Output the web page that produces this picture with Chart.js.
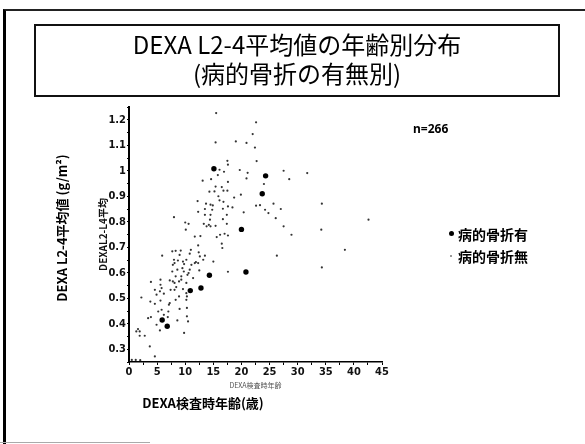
<!DOCTYPE html>
<html lang="ja">
<head>
  <meta charset="UTF-8">
  <title>DEXA L2-4平均値の年齢別分布</title>
  <script src="https://cdn.jsdelivr.net/npm/chart.js"></script>
  <style>
    body {
      margin: 0;
      background: #fff;
      font-family: 'Noto Sans CJK JP', 'Noto Sans', sans-serif;
      color: #000;
    }

    #page {
      position: relative;
      width: 585px;
      height: 444px;
      overflow: hidden;
    }

    canvas {
      position: absolute;
      left: 0;
      top: 0;
    }

    .frame {
      position: absolute;
      left: 3px;
      top: 9px;
      width: 600px;
      height: 460px;
      border-top: 2px solid #222;
      border-left: 3px solid #000;
    }

    .bottom-line {
      position: absolute;
      left: 0;
      top: 442px;
      width: 150px;
      height: 1px;
      background: #aaa;
    }

    .title-box {
      position: absolute;
      left: 34px;
      top: 24px;
      width: 526px;
      height: 73px;
      box-sizing: border-box;
      border: 2px solid #111;
      padding-top: 3px;
      text-align: center;
      font-size: 24px;
      line-height: 29px;
    }

    .note {
      position: absolute;
      left: 413px;
      top: 121px;
      font-family: 'Noto Sans', sans-serif;
      font-size: 12px;
      font-weight: bold;
      line-height: 16px;
    }

    .legend-row {
      position: absolute;
      left: 458px;
      font-size: 14px;
      font-weight: bold;
      line-height: 18px;
    }

    .dot {
      position: absolute;
      border-radius: 50%;
    }

    .ylabel {
      position: absolute;
      left: -48px;
      top: 219px;
      width: 220px;
      height: 18px;
      line-height: 18px;
      text-align: center;
      font-size: 13px;
      font-weight: bold;
      transform: rotate(-90deg);
    }

    .xlabel {
      position: absolute;
      left: 103px;
      top: 394px;
      width: 200px;
      line-height: 18px;
      text-align: center;
      font-size: 13px;
      font-weight: bold;
    }
  </style>
</head>

<body>
  <div id="page">
    <canvas id="chart" width="585" height="444"></canvas>
    <div class="frame"></div>
    <div class="bottom-line"></div>
    <div class="title-box">DEXA L2-4平均値の年齢別分布<br>(病的骨折の有無別)</div>
    <div class="note">n=266</div>
    <div class="dot" style="left:449px; top:231px; width:5px; height:5px; background:#000;"></div>
    <div class="legend-row" style="top:225px;">病的骨折有</div>
    <div class="dot" style="left:450px; top:255px; width:2px; height:2px; background:#777;"></div>
    <div class="legend-row" style="top:247px;">病的骨折無</div>
    <div class="ylabel">DEXA L2-4平均値 (g/m²)</div>
    <div class="xlabel">DEXA検査時年齢(歳)</div>
  </div>

  <script>
    // 病的骨折有 (年齢, L2-4平均値)
    const fxAge = [5.9, 6.8, 10.9, 12.8, 14.3, 20.8, 20.0, 15.1, 24.3, 23.7];
    const fxBmd = [0.415, 0.39, 0.53, 0.54, 0.59, 0.603, 0.77, 1.008, 0.98, 0.91];

    // 病的骨折無 (年齢, L2-4平均値)
    const nfAge = [
      15.5, 15.4, 19.0, 20.9, 22.0, 22.6, 22.4, 22.7, 17.5, 17.6,
      19.7, 21.1, 20.9, 16.1, 16.9, 15.8, 17.6, 14.6, 13.1, 27.5,
      28.5, 24.0, 15.4, 16.5, 16.8, 14.3, 15.2, 17.5, 15.9, 18.7,
      19.9, 12.2, 13.7, 14.9, 16.1, 16.8, 18.4, 22.6, 23.3, 24.2,
      25.7, 27.0, 24.8, 26.1, 27.5, 20.4, 8.0, 12.3, 13.5, 14.8,
      16.7, 17.6, 10.0, 10.6, 13.3, 14.2, 15.4, 16.7, 17.4, 16.2,
      17.0, 17.6, 10.1, 11.7, 12.7, 15.6, 12.3, 16.5,
      31.7, 34.3, 28.9, 34.2, 42.6, 38.4, 26.3, 34.3,
      16.6, 7.7, 8.3, 5.9, 9.2, 11.0, 12.4, 10.8, 12.6, 13.5,
      8.0, 8.7, 10.2, 11.9, 13.2, 15.0, 7.8, 9.8, 11.1, 12.3,
      7.7, 8.6, 9.75, 10.6, 12.5, 17.6, 8.3, 9.3, 11.4, 7.25,
      8.1, 8.9, 10.2, 5.6, 3.9, 5.6, 7.4, 8.4, 9.6, 10.2,
      4.6, 5.5, 2.2, 4.9, 6.2, 8.3, 10.3, 5.6, 3.8, 4.6,
      7.1, 9.0, 10.3, 5.2, 5.8, 7.0, 10.3, 6.2, 3.9, 3.4,
      10.5, 8.6, 6.9, 4.9, 1.6, 1.9, 1.3, 1.9, 2.8, 5.5,
      9.8, 3.7, 4.6, 0.5, 1.2, 2.0,
      13.5, 14.5, 17.4, 14.4, 14.5, 13.8, 9.0, 8.1, 9.6, 11.7,
      9.5, 10.8, 10.4, 7.8, 9.3, 5.8, 8.1, 8.9, 10.2, 7.25, 14.5
    ];
    const nfBmd = [
      1.226, 1.111, 1.115, 1.109, 1.144, 1.19, 1.091, 1.038, 1.039, 1.024,
      1.003, 0.992, 0.97, 1.004, 0.996, 0.983, 0.956, 0.967, 0.961, 1.0,
      0.967, 0.948, 0.938, 0.936, 0.922, 0.918, 0.919, 0.922, 0.9, 0.895,
      0.906, 0.881, 0.871, 0.864, 0.884, 0.878, 0.856, 0.863, 0.865, 0.847,
      0.871, 0.85, 0.834, 0.814, 0.782, 0.837, 0.818, 0.839, 0.85, 0.847,
      0.851, 0.86, 0.797, 0.792, 0.792, 0.788, 0.784, 0.81, 0.792, 0.749,
      0.753, 0.746, 0.769, 0.742, 0.744, 0.74, 0.707, 0.714,
      0.991, 0.871, 0.749, 0.769, 0.808, 0.69, 0.667, 0.621,
      0.697, 0.684, 0.686, 0.667, 0.687, 0.69, 0.68, 0.675, 0.664, 0.667,
      0.651, 0.648, 0.651, 0.642, 0.651, 0.644, 0.631, 0.634, 0.631, 0.638,
      0.605, 0.612, 0.605, 0.599, 0.609, 0.604, 0.586, 0.586, 0.579, 0.57,
      0.56, 0.566, 0.56, 0.573, 0.564, 0.553, 0.533, 0.544, 0.536, 0.52,
      0.533, 0.527, 0.503, 0.514, 0.518, 0.494, 0.507, 0.491, 0.487, 0.478,
      0.475, 0.458, 0.462, 0.448, 0.455, 0.448, 0.429, 0.435, 0.426, 0.422,
      0.409, 0.413, 0.426, 0.396, 0.379, 0.37, 0.37, 0.353, 0.353, 0.374,
      0.364, 0.311, 0.272, 0.258, 0.258, 0.257,
      0.827, 0.827, 0.827, 0.808, 0.782, 0.782, 0.67, 0.638, 0.644, 0.638,
      0.618, 0.612, 0.592, 0.566, 0.573, 0.54, 0.533, 0.507, 0.494, 0.481, 0.867
    ];

    const tickFont = "'Liberation Sans Narrow', 'DejaVu Sans Condensed', sans-serif";

    const toPoints = (xs, ys) => xs.map((x, i) => ({ x: x, y: ys[i] }));

    new Chart(document.getElementById('chart'), {
      type: 'scatter',
      data: {
        datasets: [
          {
            label: '病的骨折無',
            data: toPoints(nfAge, nfBmd),
            pointRadius: 1.1,
            backgroundColor: '#333',
            borderWidth: 0
          },
          {
            label: '病的骨折有',
            data: toPoints(fxAge, fxBmd),
            pointRadius: 2.7,
            backgroundColor: '#000',
            borderWidth: 0
          }
        ]
      },
      options: {
        responsive: false,
        animation: false,
        layout: { padding: { left: 89, top: 107, right: 203, bottom: 52 } },
        plugins: {
          legend: { display: false },
          tooltip: { enabled: false }
        },
        scales: {
          x: {
            type: 'linear',
            min: 0,
            max: 45,
            afterFit: s => { s.height = 30; },
            ticks: {
              stepSize: 2.5,
              autoSkip: false,
              maxRotation: 0,
              padding: 1,
              color: '#111',
              font: { family: tickFont, size: 11, weight: 'bold' },
              callback: v => (v % 5 === 0 ? String(v) : '')
            },
            grid: { drawOnChartArea: false, tickLength: 3, color: '#000' },
            border: { color: '#000', width: 1.5 },
            title: {
              display: true,
              text: 'DEXA検査時年齢',
              color: '#555',
              font: { family: 'Noto Sans CJK JP', size: 7 },
              padding: { top: 0, bottom: 2 }
            }
          },
          y: {
            min: 0.25,
            max: 1.25,
            afterFit: s => { s.width = 40; },
            ticks: {
              stepSize: 0.05,
              autoSkip: false,
              padding: 1,
              color: '#111',
              font: { family: tickFont, size: 11, weight: 'bold' },
              callback: v => {
                const t = Math.round(v * 100);
                return t % 10 === 0 ? String(t / 100) : '';
              }
            },
            grid: { drawOnChartArea: false, tickLength: 2, color: '#000' },
            border: { color: '#000', width: 2 },
            title: {
              display: true,
              text: 'DEXAL2-L4平均',
              color: '#111',
              font: { family: 'Noto Sans CJK JP', size: 10, weight: 'bold' },
              padding: { top: 8, bottom: 0 }
            }
          }
        }
      }
    });
  </script>
</body>

</html>
